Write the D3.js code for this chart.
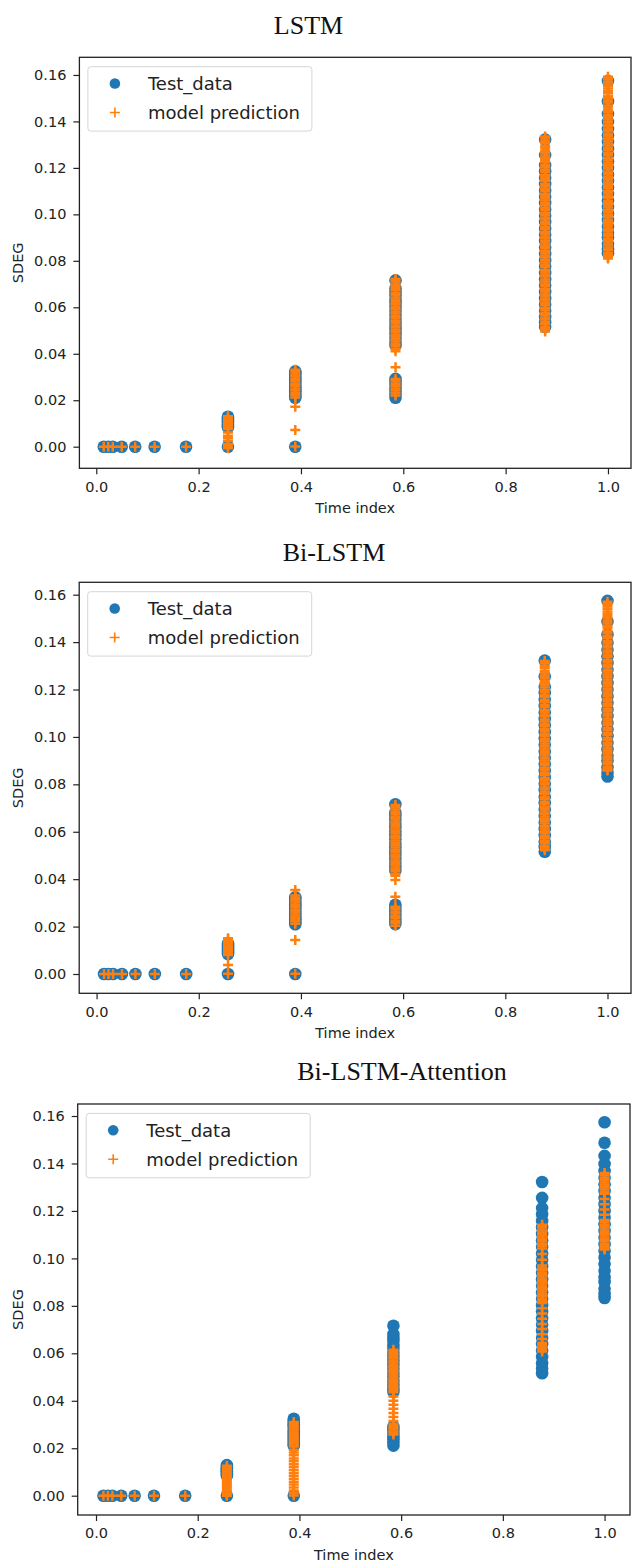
<!DOCTYPE html>
<html><head><meta charset="utf-8">
<script src="https://cdn.jsdelivr.net/npm/d3@7"></script>
<style>body{margin:0;background:#fff}svg{display:block}</style>
</head><body>
<svg id="chart" width="632" height="1561"></svg>
<script>
// ---------------- data ----------------
const modelTitles = ["LSTM", "Bi-LSTM", "Bi-LSTM-Attention"];
const legendLabels = ["Test_data", "model prediction"];
const xTicks = [0.0, 0.2, 0.4, 0.6, 0.8, 1.0];
const yTicks = [0.00, 0.02, 0.04, 0.06, 0.08, 0.10, 0.12, 0.14, 0.16];
const timeIndex = [0.0146, 0.0234, 0.0322, 0.0497, 0.0760, 0.1140, 0.1754, 0.2573, 0.3889, 0.5848, 0.8772, 1.0];

// SDEG test data, one list per time index
const testValues = [
  [0], [0], [0], [0], [0], [0], [0],
  [0.0129, 0.0122, 0.0116, 0.0109, 0.0103, 0.0096, 0.0090, 0.0084, 0],
  [0.0324, 0.0317, 0.0309, 0.0301, 0.0294, 0.0286, 0.0278, 0.0271, 0.0263, 0.0255, 0.0247, 0.0239, 0.0231, 0.0224, 0.0216, 0.0210, 0],
  [0.0716, 0.0681, 0.0667, 0.0652, 0.0634, 0.0619, 0.0601, 0.0585, 0.0568, 0.0551, 0.0535, 0.0518, 0.0502, 0.0485, 0.0469, 0.0452, 0.0437, 0.0292, 0.0279, 0.0265, 0.0251, 0.0238, 0.0224, 0.0211],
  [0.1322, 0.1255, 0.1212, 0.1186, 0.1158, 0.1131, 0.1103, 0.1076, 0.1049, 0.1021, 0.0994, 0.0967, 0.0939, 0.0912, 0.0885, 0.0857, 0.0830, 0.0803, 0.0776, 0.0748, 0.0721, 0.0694, 0.0666, 0.0639, 0.0612, 0.0585, 0.0558, 0.0536, 0.0516],
  [0.1574, 0.1487, 0.1432, 0.1398, 0.1368, 0.1340, 0.1312, 0.1284, 0.1256, 0.1228, 0.1200, 0.1172, 0.1144, 0.1116, 0.1088, 0.1060, 0.1032, 0.1004, 0.0976, 0.0948, 0.0921, 0.0901, 0.0872, 0.0850, 0.0833]
];

// LSTM predictions
const lstmPred = [
  [0], [0], [0], [0], [0], [0], [0],
  [0.0131, 0.0123, 0.0115, 0.0107, 0.0099, 0.0091, 0.0083, 0.0076, 0.0061, 0.0047, 0.0036, 0.0024, 0.0011, 0.0002, -0.0007],
  [0.0331, 0.0322, 0.0311, 0.0302, 0.0291, 0.0282, 0.0271, 0.0262, 0.0251, 0.0242, 0.0231, 0.0222, 0.0212, 0.0172, 0.0072, 0.0001],
  [0.0722, 0.0713, 0.0702, 0.0693, 0.0682, 0.0673, 0.0662, 0.0653, 0.0642, 0.0633, 0.0622, 0.0613, 0.0602, 0.0593, 0.0582, 0.0573, 0.0562, 0.0553, 0.0542, 0.0533,
   0.0522, 0.0513, 0.0502, 0.0493, 0.0482, 0.0473, 0.0462, 0.0453, 0.0442, 0.0433, 0.0422, 0.0411, 0.0342, 0.0291, 0.0282, 0.0271, 0.0262, 0.0251, 0.0242, 0.0231, 0.0220],
  [0.1335, 0.1326, 0.1315, 0.1306, 0.1294, 0.1285, 0.1274, 0.1265, 0.1253, 0.1244,
   0.1233, 0.1224, 0.1212, 0.1203, 0.1192, 0.1183, 0.1171, 0.1162, 0.1151, 0.1142,
   0.1130, 0.1121, 0.1110, 0.1101, 0.1089, 0.1080, 0.1069, 0.1060, 0.1048, 0.1039,
   0.1028, 0.1019, 0.1007, 0.0998, 0.0987, 0.0978, 0.0966, 0.0957, 0.0946, 0.0937,
   0.0925, 0.0916, 0.0905, 0.0896, 0.0884, 0.0875, 0.0864, 0.0855, 0.0843, 0.0834,
   0.0823, 0.0814, 0.0802, 0.0793, 0.0782, 0.0773, 0.0761, 0.0752, 0.0741, 0.0732,
   0.0720, 0.0711, 0.0700, 0.0691, 0.0679, 0.0670, 0.0659, 0.0650, 0.0638, 0.0629,
   0.0618, 0.0609, 0.0597, 0.0588, 0.0577, 0.0568, 0.0556, 0.0547, 0.0536, 0.0527,
   0.0515, 0.0506, 0.0496],
  [0.1592, 0.1583, 0.1572, 0.1563, 0.1551, 0.1542, 0.1531, 0.1522, 0.1510, 0.1501,
   0.1490, 0.1481, 0.1469, 0.1460, 0.1449, 0.1440, 0.1428, 0.1419, 0.1408, 0.1399,
   0.1387, 0.1378, 0.1367, 0.1358, 0.1346, 0.1337, 0.1326, 0.1317, 0.1305, 0.1296,
   0.1285, 0.1276, 0.1264, 0.1255, 0.1244, 0.1235, 0.1223, 0.1214, 0.1203, 0.1194,
   0.1182, 0.1173, 0.1162, 0.1153, 0.1141, 0.1132, 0.1121, 0.1112, 0.1100, 0.1091,
   0.1080, 0.1071, 0.1059, 0.1050, 0.1039, 0.1030, 0.1018, 0.1009, 0.0998, 0.0989,
   0.0977, 0.0968, 0.0957, 0.0948, 0.0936, 0.0927, 0.0916, 0.0907, 0.0895, 0.0886,
   0.0875, 0.0866, 0.0854, 0.0845, 0.0834, 0.0825, 0.0816, 0.0810]
];

// Bi-LSTM predictions
const biLstmPred = [
  [0], [0], [0], [0], [0], [0], [0],
  [0.0151, 0.0143, 0.0135, 0.0127, 0.0119, 0.0111, 0.0103, 0.0095, 0.0087, 0.0080, 0.0038, 0.0001],
  [0.0354, 0.0331, 0.0322, 0.0311, 0.0302, 0.0291, 0.0282, 0.0271, 0.0262, 0.0251, 0.0242, 0.0231, 0.0222, 0.0212, 0.0143, 0.0001],
  [0.0713, 0.0703, 0.0694, 0.0683, 0.0674, 0.0663, 0.0654, 0.0643, 0.0634, 0.0623,
   0.0614, 0.0603, 0.0594, 0.0583, 0.0574, 0.0563, 0.0554, 0.0543, 0.0534, 0.0523,
   0.0514, 0.0503, 0.0494, 0.0483, 0.0474, 0.0463, 0.0454, 0.0443, 0.0434, 0.0423,
   0.0414, 0.0397, 0.0326, 0.0284, 0.0275, 0.0264, 0.0255, 0.0244, 0.0235, 0.0224, 0.0215, 0.0204],
  [0.1320, 0.1311, 0.1300, 0.1291, 0.1279, 0.1270, 0.1259, 0.1250, 0.1238, 0.1229,
   0.1218, 0.1209, 0.1197, 0.1188, 0.1177, 0.1168, 0.1156, 0.1147, 0.1136, 0.1127,
   0.1115, 0.1106, 0.1095, 0.1086, 0.1074, 0.1065, 0.1054, 0.1045, 0.1033, 0.1024,
   0.1013, 0.1004, 0.0992, 0.0983, 0.0972, 0.0963, 0.0951, 0.0942, 0.0931, 0.0922,
   0.0910, 0.0901, 0.0890, 0.0881, 0.0869, 0.0860, 0.0849, 0.0840, 0.0828, 0.0819,
   0.0808, 0.0799, 0.0787, 0.0778, 0.0767, 0.0758, 0.0746, 0.0737, 0.0726, 0.0717,
   0.0705, 0.0696, 0.0685, 0.0676, 0.0664, 0.0655, 0.0644, 0.0635, 0.0623, 0.0614,
   0.0603, 0.0594, 0.0582, 0.0573, 0.0562, 0.0553, 0.0541, 0.0532, 0.0522],
  [0.1570, 0.1561, 0.1550, 0.1541, 0.1529, 0.1520, 0.1509, 0.1500, 0.1488, 0.1479,
   0.1468, 0.1459, 0.1447, 0.1438, 0.1427, 0.1418, 0.1406, 0.1397, 0.1386, 0.1377,
   0.1365, 0.1356, 0.1345, 0.1336, 0.1324, 0.1315, 0.1304, 0.1295, 0.1283, 0.1274,
   0.1263, 0.1254, 0.1242, 0.1233, 0.1222, 0.1213, 0.1201, 0.1192, 0.1181, 0.1172,
   0.1160, 0.1151, 0.1140, 0.1131, 0.1119, 0.1110, 0.1099, 0.1090, 0.1078, 0.1069,
   0.1058, 0.1049, 0.1037, 0.1028, 0.1017, 0.1008, 0.0996, 0.0987, 0.0976, 0.0967,
   0.0955, 0.0946, 0.0935, 0.0926, 0.0914, 0.0905, 0.0894, 0.0885, 0.0873, 0.0864,
   0.0858]
];

// Bi-LSTM-Attention predictions
const attnPred = [
  [0], [0], [0], [0], [0], [0], [0],
  [0.0126, 0.0118, 0.0110, 0.0102, 0.0094, 0.0086, 0.0078, 0.0070, 0.0062, 0.0054, 0.0046, 0.0038, 0.0030, 0.0022, 0.0014, 0.0006, 0.0],
  [0.0311, 0.0303, 0.0295, 0.0287, 0.0279, 0.0271, 0.0263, 0.0255, 0.0247, 0.0239, 0.0231, 0.0223, 0.0215, 0.0207, 0.0194, 0.0182, 0.0170, 0.0157, 0.0145, 0.0133, 0.0121, 0.0108, 0.0096, 0.0084, 0.0071, 0.0059, 0.0047, 0.0035, 0.0022, 0.0010, 0.0001],
  [0.0615, 0.0606, 0.0597, 0.0588, 0.0579, 0.0570, 0.0561, 0.0552, 0.0543, 0.0534, 0.0525, 0.0516, 0.0507, 0.0498, 0.0489, 0.0480, 0.0471, 0.0462, 0.0453, 0.0444, 0.0436, 0.0418, 0.0400, 0.0383, 0.0366, 0.0349, 0.0332, 0.0315, 0.0302, 0.0293, 0.0284, 0.0275, 0.0266, 0.0258],
  [0.1142, 0.1132, 0.1122, 0.1112, 0.1102, 0.1092, 0.1082, 0.1072, 0.1062, 0.1052, 0.1042, 0.1018, 0.0994, 0.0970, 0.0960, 0.0950, 0.0940, 0.0930, 0.0920, 0.0910, 0.0900, 0.0890, 0.0880, 0.0870, 0.0860, 0.0850, 0.0840, 0.0830, 0.0820, 0.0812, 0.0790, 0.0768, 0.0746, 0.0724, 0.0702, 0.0680, 0.0660, 0.0643, 0.0634, 0.0625, 0.0616, 0.0608],
  [0.1360, 0.1350, 0.1340, 0.1330, 0.1320, 0.1310, 0.1300, 0.1290, 0.1280, 0.1272, 0.1250, 0.1228, 0.1206, 0.1184, 0.1162, 0.1152, 0.1142, 0.1132, 0.1122, 0.1112, 0.1102, 0.1092, 0.1082, 0.1072, 0.1062, 0.1052, 0.1044, 0.1037]
];

const predictions = [lstmPred, biLstmPred, attnPred];

// ---------------- layout ----------------
const panels = [
  { titleX: 308.5, titleY: 33.5, left: 79.4, right: 631, top: 57.3, bottom: 468.3, xDom: [-0.033, 1.045], yDom: [-0.0093, 0.1676] },
  { titleX: 334, titleY: 560.5, left: 79.2, right: 631, top: 582.3, bottom: 993.3, xDom: [-0.034, 1.046], yDom: [-0.00814, 0.16523] },
  { titleX: 402, titleY: 1080, left: 77.7, right: 630, top: 1104, bottom: 1515, xDom: [-0.036, 1.050], yDom: [-0.00813, 0.16506] }
];

const BLUE = "#1f77b4", ORANGE = "#ff7f0e";
const svg = d3.select("#chart");
const tickFont = "DejaVu Sans, Verdana, sans-serif";
const plusPath = "M-5,0H5M0,-5V5";

panels.forEach((p, i) => {
  const x = d3.scaleLinear().domain(p.xDom).range([p.left, p.right]);
  const y = d3.scaleLinear().domain(p.yDom).range([p.bottom, p.top]);
  const g = svg.append("g");

  // title
  g.append("text").attr("x", p.titleX).attr("y", p.titleY)
    .attr("text-anchor", "middle")
    .style("font-family", "Liberation Serif, Times New Roman, serif")
    .style("font-size", "26px").style("fill", "#111")
    .text(modelTitles[i]);

  // clip
  const clipId = "clip" + i;
  svg.append("clipPath").attr("id", clipId).append("rect")
    .attr("x", p.left).attr("y", p.top).attr("width", p.right - p.left).attr("height", p.bottom - p.top);

  const plot = g.append("g").attr("clip-path", `url(#${clipId})`);

  // test data
  const testPts = [];
  timeIndex.forEach((t, k) => testValues[k].forEach(v => testPts.push([t, v])));
  plot.selectAll("circle.test").data(testPts).join("circle")
    .attr("class", "test")
    .attr("cx", d => x(d[0])).attr("cy", d => y(d[1])).attr("r", 6.3)
    .attr("fill", BLUE);

  // predictions
  const predPts = [];
  timeIndex.forEach((t, k) => predictions[i][k].forEach(v => predPts.push([t, v])));
  plot.selectAll("path.pred").data(predPts).join("path")
    .attr("class", "pred")
    .attr("d", plusPath)
    .attr("transform", d => `translate(${x(d[0])},${y(d[1])})`)
    .attr("stroke", ORANGE).attr("stroke-width", 2.5).attr("fill", "none");

  // axes
  const yAxis = g.append("g").attr("transform", `translate(${p.left},0)`)
    .call(d3.axisLeft(y).tickValues(yTicks).tickFormat(d3.format(".2f")).tickSize(6).tickPadding(7));
  const xAxis = g.append("g").attr("transform", `translate(0,${p.bottom})`)
    .call(d3.axisBottom(x).tickValues(xTicks).tickFormat(d3.format(".1f")).tickSize(6).tickPadding(7));
  [xAxis, yAxis].forEach(a => {
    a.select(".domain").remove();
    a.selectAll(".tick line").attr("stroke", "#222").attr("stroke-width", 1.2);
    a.selectAll(".tick text").style("font-family", tickFont).style("font-size", "14.5px").attr("fill", "#222");
  });

  // frame
  g.append("rect").attr("x", p.left).attr("y", p.top)
    .attr("width", p.right - p.left).attr("height", p.bottom - p.top)
    .attr("fill", "none").attr("stroke", "#222").attr("stroke-width", 1.3);

  // axis labels
  g.append("text").attr("x", (p.left + p.right) / 2).attr("y", p.bottom + 44.5)
    .attr("text-anchor", "middle").style("font-family", tickFont).style("font-size", "14.5px").attr("fill", "#222")
    .text("Time index");
  g.append("text").attr("transform", `translate(22.5,${(p.top + p.bottom) / 2}) rotate(-90)`)
    .attr("text-anchor", "middle").style("font-family", tickFont).style("font-size", "14.5px").attr("fill", "#222")
    .text("SDEG");

  // legend
  const lg = g.append("g").attr("transform", `translate(${p.left + 8.5},${p.top + 9.4})`);
  lg.append("rect").attr("width", 224).attr("height", 64.4).attr("rx", 3)
    .attr("fill", "#fff").attr("fill-opacity", 0.8).attr("stroke", "#d6d6d6").attr("stroke-width", 1);
  lg.append("circle").attr("cx", 27).attr("cy", 16.8).attr("r", 5.3).attr("fill", BLUE);
  lg.append("path").attr("d", plusPath).attr("transform", "translate(27,45.8)")
    .attr("stroke", ORANGE).attr("stroke-width", 1.6).attr("fill", "none");
  lg.selectAll("text.leg").data(legendLabels).join("text").attr("class", "leg")
    .attr("x", 60).attr("y", (d, j) => j === 0 ? 16.8 : 45.8).attr("dy", "0.36em")
    .style("font-family", tickFont).style("font-size", "18px").attr("fill", "#222")
    .text(d => d);
});
</script>
</body></html>
